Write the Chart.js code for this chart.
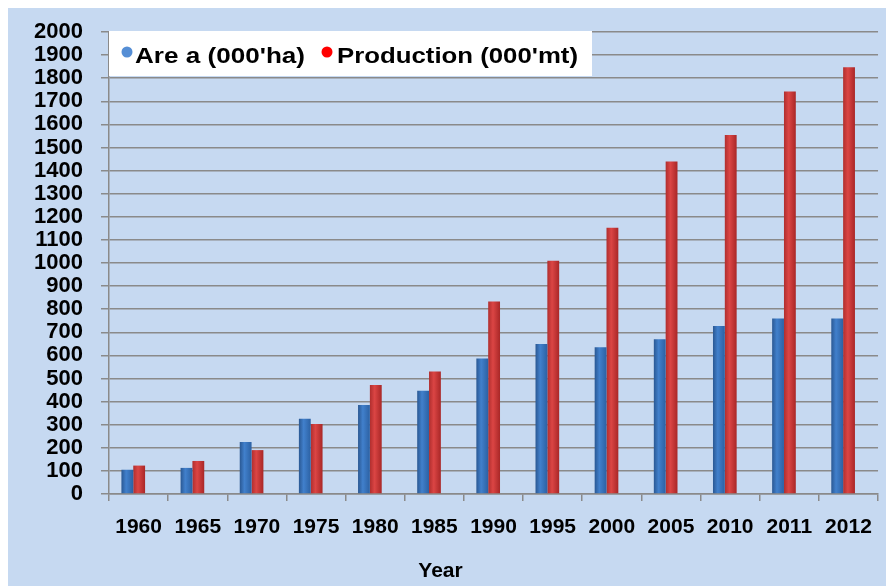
<!DOCTYPE html>
<html>
<head>
<meta charset="utf-8">
<script src="https://cdn.jsdelivr.net/npm/chart.js@4.4.1/dist/chart.umd.min.js"></script>
<style>
  html, body { margin: 0; padding: 0; background: #ffffff; }
  #c { display: block; }
</style>
</head>
<body>
<canvas id="c" width="886" height="586"></canvas>
<script>
// ---- data ----
const years = ['1960','1965','1970','1975','1980','1985','1990','1995','2000','2005','2010','2011','2012'];
const areaValues = [105, 113, 225, 326, 385, 447, 587, 649, 635, 670, 727, 760, 760];
const productionValues = [123, 143, 190, 303, 472, 530, 833, 1010, 1153, 1439, 1554, 1742, 1847];
const yMin = 0, yMax = 2000, yStep = 100;
const seriesNames = ["Are a (000'ha)", "Production (000'mt)"];
const axisTitle = 'Year';

const FONT = '"Liberation Sans", Arial, sans-serif';
const GRID = '#8a8a8a';

function barFill(stops) {
  return (ctx) => {
    const chart = ctx.chart;
    const s = chart.scales.xb;
    if (ctx.type !== 'data' || !s) return stops[1];
    const catW = (s.right - s.left) / years.length;
    const w = catW * 0.4 / 2;
    const cx = s.getPixelForValue(ctx.dataIndex);
    const left = ctx.datasetIndex === 0 ? cx - w : cx;
    if (!isFinite(left)) return stops[1];
    const g = chart.ctx.createLinearGradient(left, 0, left + w, 0);
    g.addColorStop(0, stops[0]);
    g.addColorStop(0.4, stops[1]);
    g.addColorStop(1, stops[2]);
    return g;
  };
}

const bgPlugin = {
  id: 'bg',
  beforeDraw(chart) {
    const c = chart.ctx;
    c.save();
    c.fillStyle = '#ffffff';
    c.fillRect(0, 0, chart.width, chart.height);
    c.fillStyle = '#C6D9F1';
    c.fillRect(8, 8, chart.width - 8, chart.height - 8);
    c.restore();
  }
};

const legendPlugin = {
  id: 'customLegend',
  afterDraw(chart) {
    const c = chart.ctx;
    const left = chart.chartArea.left;
    c.save();
    c.fillStyle = '#ffffff';
    c.fillRect(left, 31, 592 - left, 45);
    const items = [
      { text: seriesNames[0], dot: '#558ED5', dx: 127, tx: 135, tw: 170 },
      { text: seriesNames[1], dot: '#FF0000', dx: 327, tx: 337, tw: 241 }
    ];
    c.font = 'bold 22px ' + FONT;
    c.textBaseline = 'alphabetic';
    c.textAlign = 'left';
    items.forEach(it => {
      c.fillStyle = it.dot;
      c.beginPath();
      c.arc(it.dx, 52, 5.5, 0, Math.PI * 2);
      c.fill();
      const m = c.measureText(it.text).width;
      c.save();
      c.translate(it.tx, 63);
      c.scale(it.tw / m, 1);
      c.fillStyle = '#000000';
      c.fillText(it.text, 0, 0);
      c.restore();
    });
    c.restore();
  }
};

function make() {
  new Chart(document.getElementById('c'), {
    type: 'bar',
    data: {
      labels: years,
      datasets: [
        {
          label: seriesNames[0],
          data: areaValues,
          xAxisID: 'xb',
          yAxisID: 'y',
          backgroundColor: barFill(['#2A5893', '#4180CC', '#2C61A3']),
          borderWidth: 0,
          categoryPercentage: 0.4,
          barPercentage: 1.0
        },
        {
          label: seriesNames[1],
          data: productionValues,
          xAxisID: 'xb',
          yAxisID: 'y',
          backgroundColor: barFill(['#B02E2E', '#DB4544', '#A92727']),
          borderWidth: 0,
          categoryPercentage: 0.4,
          barPercentage: 1.0
        }
      ]
    },
    options: {
      responsive: false,
      animation: false,
      devicePixelRatio: 1,
      layout: { padding: { top: 32, right: 5, left: 0, bottom: 0 } },
      plugins: {
        legend: { display: false },
        tooltip: { enabled: false },
        title: {
          display: true,
          position: 'bottom',
          text: axisTitle,
          color: '#000000',
          font: { family: FONT, size: 21, weight: 'bold' },
          padding: { top: 0, bottom: 2 }
        }
      },
      scales: {
        x: {
          type: 'category',
          position: 'bottom',
          offset: true,
          grid: {
            display: true,
            drawOnChartArea: false,
            drawTicks: true,
            offset: true,
            tickLength: 7,
            color: GRID,
            lineWidth: 1.5
          },
          border: { display: true, color: GRID, width: 1.5 },
          ticks: {
            color: '#000000',
            font: { family: FONT, size: 21, weight: 'bold' },
            padding: 14,
            maxRotation: 0,
            autoSkip: false
          },
          afterFit: (s) => { s.height = 92 - (21 * 1.2 + 2); }
        },
        xb: {
          type: 'category',
          display: false,
          offset: true,
          afterTickToLabelConversion: (s) => {
            if (typeof s._startValue === 'number') s._startValue += 0.09;
          }
        },
        y: {
          min: yMin,
          max: yMax,
          grid: { color: GRID, lineWidth: 1.5, tickLength: 8 },
          border: { display: true, color: GRID, width: 1.5 },
          ticks: {
            stepSize: yStep,
            autoSkip: false,
            color: '#000000',
            font: { family: FONT, size: 22, weight: 'bold' },
            padding: 18,
            callback: (v) => String(v)
          },
          afterFit: (s) => { s.width = 109; }
        }
      }
    },
    plugins: [bgPlugin, legendPlugin]
  });
}

if (document.fonts && document.fonts.load) {
  Promise.all([
    document.fonts.load('bold 21px "Liberation Sans"'),
    document.fonts.load('bold 22px "Liberation Sans"')
  ]).then(make, make);
} else {
  make();
}
</script>
</body>
</html>
